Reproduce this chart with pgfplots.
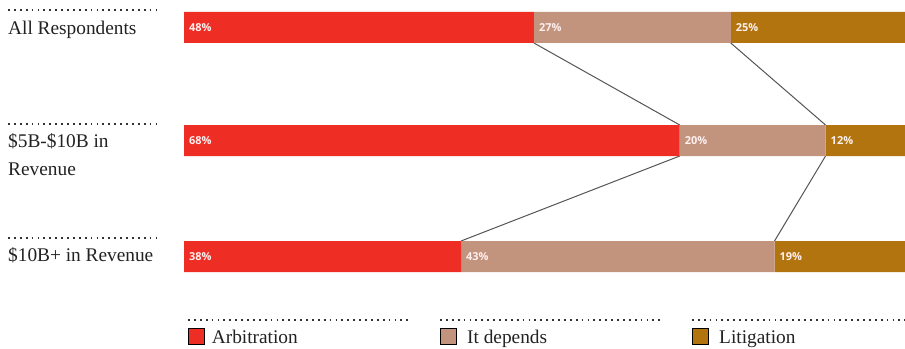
\documentclass[border=0pt]{standalone}
\usepackage{fontspec}
\setmainfont{Liberation Serif}
\newfontfamily\barfont{Open Sans}
\usepackage{pgfplots}
\pgfplotsset{compat=1.18}
\definecolor{arb}{HTML}{EE2E24}
\definecolor{dep}{HTML}{C2937D}
\definecolor{lit}{HTML}{B2740E}
\definecolor{txt}{HTML}{222222}
\definecolor{dots}{HTML}{333333}
\definecolor{conn}{HTML}{555555}
\tikzset{
  lab/.style={font=\fontsize{19.4}{23}\selectfont, text=txt, anchor=base west, inner sep=0pt},
  val/.style={font=\barfont\bfseries\fontsize{11}{13}\selectfont, text=white!94!red, anchor=west, inner xsep=5bp, inner ysep=0pt},
}
\pgfplotsset{
  dotline/.style={stack plots=false, sharp plot, mark=none, draw=dots, line width=1.8bp, dash pattern=on 1.8bp off 4.1bp},
  conline/.style={stack plots=false, sharp plot, mark=none, draw=conn, line width=1bp},
  sq/.style={stack plots=false, only marks, mark=square*, mark size=8bp, mark options={fill=#1, draw=none}},
}
\begin{document}
\begin{tikzpicture}
\begin{axis}[
  scale only axis, width=905bp, height=349bp,
  xmin=-25.24, xmax=98.9, ymin=0, ymax=349, y dir=reverse,
  hide axis, clip mode=individual,
  xbar stacked, bar width=31,
]
% bars (Arbitration, It depends, Litigation)
\addplot[fill=arb, draw=none] coordinates {(48,27.5) (68,140.5) (38,256.5)};
\addplot[fill=dep, draw=none] coordinates {(27,27.5) (20,140.5) (43,256.5)};
\addplot[fill=lit, draw=none] coordinates {(25,27.5) (12,140.5) (19,256.5)};
% connectors
\addplot[conline] coordinates {(48,43) (68,125)};
\addplot[conline] coordinates {(75,43) (88,125)};
\addplot[conline] coordinates {(68,156) (38,241)};
\addplot[conline] coordinates {(88,156) (81,241)};
% dotted rules
\addplot[dotline] coordinates {(-24.14,10) (-3.7,10)};
\addplot[dotline] coordinates {(-24.14,124) (-3.7,124)};
\addplot[dotline] coordinates {(-24.14,238.3) (-3.7,238.3)};
\addplot[dotline] coordinates {(0.549,320) (30.73,320)};
\addplot[dotline] coordinates {(35.12,320) (65.30,320)};
\addplot[dotline] coordinates {(69.68,320) (98.9,320)};
% legend squares
\addplot[sq=arb] coordinates {(1.646,336)};
\addplot[sq=dep] coordinates {(36.21,336)};
\addplot[sq=lit] coordinates {(70.78,336)};
% value label anchors (segment starts)
\coordinate (v11) at (axis cs:0,28);
\coordinate (v12) at (axis cs:48,28);
\coordinate (v13) at (axis cs:75,28);
\coordinate (v21) at (axis cs:0,141);
\coordinate (v22) at (axis cs:68,141);
\coordinate (v23) at (axis cs:88,141);
\coordinate (v31) at (axis cs:0,257);
\coordinate (v32) at (axis cs:38,257);
\coordinate (v33) at (axis cs:81,257);
% category labels
\node[lab] at (axis cs:-24.14,34) {All Respondents};
\node[lab] at (axis cs:-24.14,147.7) {\$5B-\$10B in};
\node[lab] at (axis cs:-24.14,175) {Revenue};
\node[lab] at (axis cs:-24.14,261.7) {\$10B+ in Revenue};
% legend texts
\node[lab] at (axis cs:3.80,343.7) {Arbitration};
\node[lab] at (axis cs:38.82,343.7) {It depends};
\node[lab] at (axis cs:73.39,343.7) {Litigation};
\end{axis}
\node[val] at (v11) {48\%};
\node[val] at (v12) {27\%};
\node[val] at (v13) {25\%};
\node[val] at (v21) {68\%};
\node[val] at (v22) {20\%};
\node[val] at (v23) {12\%};
\node[val] at (v31) {38\%};
\node[val] at (v32) {43\%};
\node[val] at (v33) {19\%};
\pgfresetboundingbox
\path (current axis.south west) rectangle (current axis.north east);
\end{tikzpicture}
\end{document}
